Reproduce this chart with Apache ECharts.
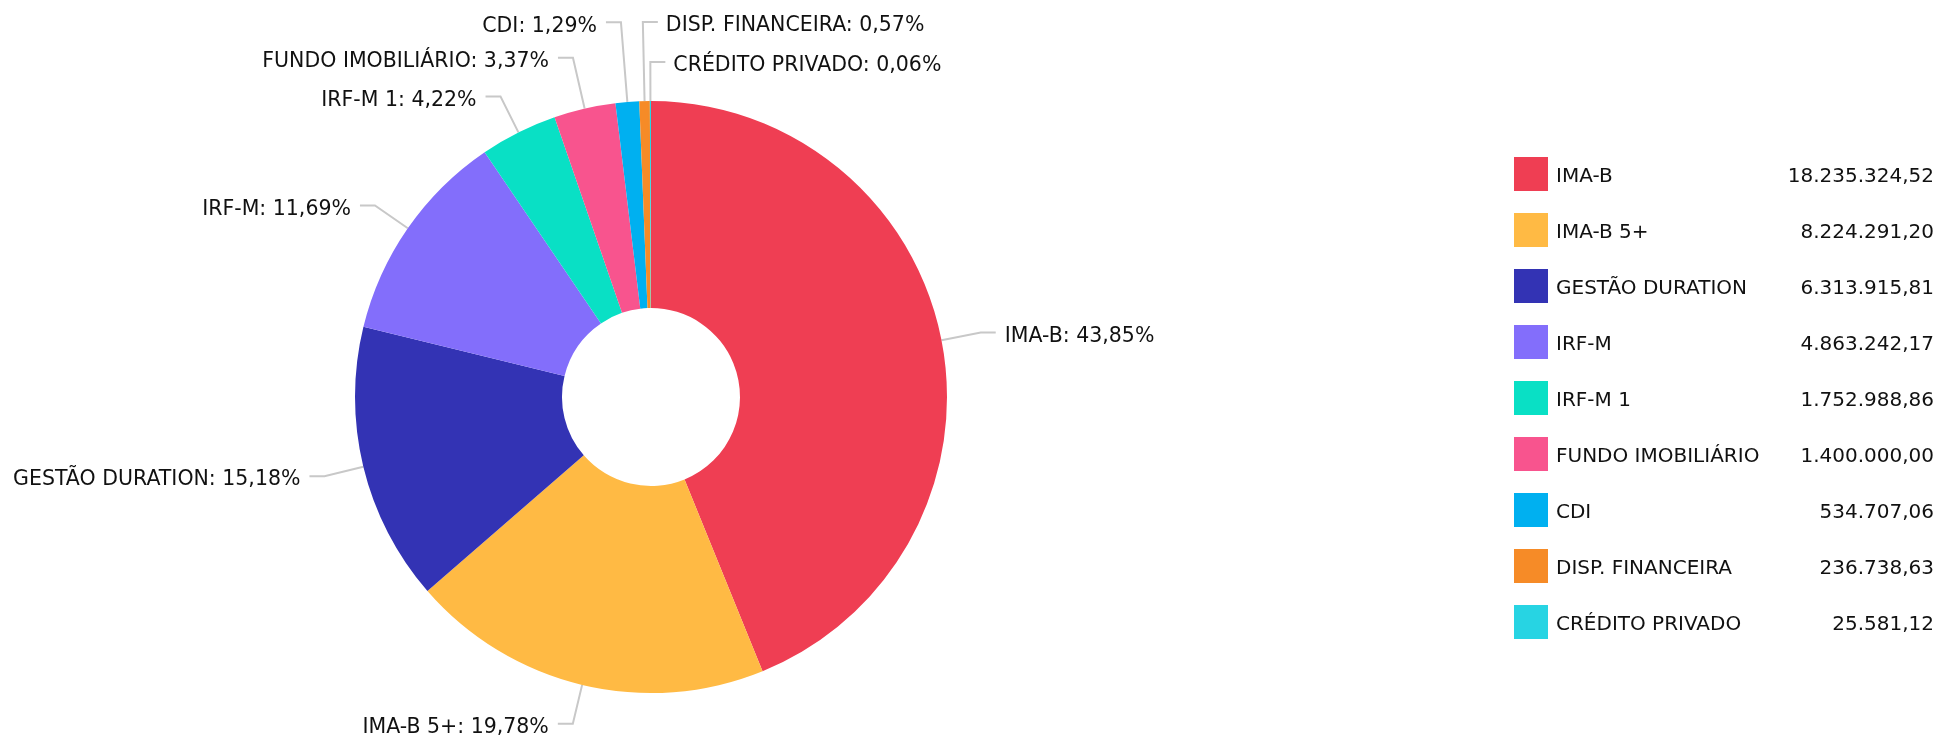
<!DOCTYPE html>
<html>
<head>
<meta charset="utf-8">
<script src="https://cdn.jsdelivr.net/npm/echarts@6/dist/echarts.min.js"></script>
<style>
  html, body { margin: 0; padding: 0; background: #fff; }
  #chart { width: 1942px; height: 741px; }
</style>
</head>
<body>
<div id="chart"></div>
<script>
var names = ['IMA-B', 'IMA-B 5+', 'GESTÃO DURATION', 'IRF-M', 'IRF-M 1', 'FUNDO IMOBILIÁRIO', 'CDI', 'DISP. FINANCEIRA', 'CRÉDITO PRIVADO']
var values = [18235324.52, 8224291.20, 6313915.81, 4863242.17, 1752988.86, 1400000.00, 534707.06, 236738.63, 25581.12]
var colors = ['#EF3E53', '#FFBA44', '#3333B4', '#836EFB', '#09E0C5', '#F8548E', '#00B0F0', '#F68B27', '#27D4E3']

// rótulos do topo: linha mais comprida / jogados pra direita
var line_len = { 'CDI': 80, 'DISP. FINANCEIRA': 79, 'CRÉDITO PRIVADO': 39, 'FUNDO IMOBILIÁRIO': 52 }
var flip_right = ['DISP. FINANCEIRA', 'CRÉDITO PRIVADO']

// formato brasileiro 1.234,56
function fmt_br (v) {
  var parts = v.toFixed(2).split('.')
  var int_part = parts[0].replace(/\B(?=(\d{3})+(?!\d))/g, '.')
  return int_part + ',' + parts[1]
}

var total = 0
for (var k in values) total += values[k]

var pie_data = []
for (var i in names) {
  var item = { name: names[i], value: values[i] }
  if (line_len[names[i]]) item.labelLine = { length: line_len[names[i]] }
  pie_data.push(item)
}

var chart = echarts.init(document.getElementById('chart'))

var option = {
  color: colors,
  textStyle: { fontFamily: 'DejaVu Sans' },
  legend: {
    orient: 'vertical',
    left: 1514,
    top: 157,
    padding: 0,
    itemWidth: 34,
    itemHeight: 34,
    itemGap: 22,
    icon: 'rect',
    data: names,
    formatter: function (name) {
      var idx = names.indexOf(name)
      return '{n|' + name + '}{v|' + fmt_br(values[idx]) + '}'
    },
    textStyle: {
      color: '#111',
      fontSize: 20,
      rich: {
        n: { width: 200, fontSize: 20, padding: [5, 0, 0, 3] },
        v: { width: 178, fontSize: 20, align: 'right', padding: [5, 0, 0, 0] }
      }
    }
  },
  series: [
    {
      type: 'pie',
      center: [651, 397],
      radius: [89, 296],
      startAngle: 90,
      avoidLabelOverlap: false,
      data: pie_data,
      label: {
        color: '#111',
        fontSize: 20.5,
        distanceToLabelLine: 9,
        formatter: function (p) {
          var pct = (p.value / total * 100).toFixed(2).replace('.', ',')
          return '{t|' + p.name + ': ' + pct + '%}'
        },
        rich: {
          t: { color: '#111', fontSize: 20.5, padding: [8, 0, 0, 0] }
        }
      },
      labelLine: {
        length: 40,
        length2: 15,
        lineStyle: { color: '#c8c8c8', width: 2 }
      },
      labelLayout: function (params) {
        if (flip_right.indexOf(names[params.dataIndex]) < 0) return {}
        var pts = params.labelLinePoints
        var len2 = Math.abs(pts[2][0] - pts[1][0])
        var end = [pts[1][0] + len2, pts[1][1]]
        return {
          x: end[0] + 8,
          y: pts[1][1],
          align: 'left',
          verticalAlign: 'middle',
          labelLinePoints: [pts[0], pts[1], end]
        }
      },
      emphasis: { scale: false }
    }
  ]
}

chart.setOption(option)
</script>
</body>
</html>
